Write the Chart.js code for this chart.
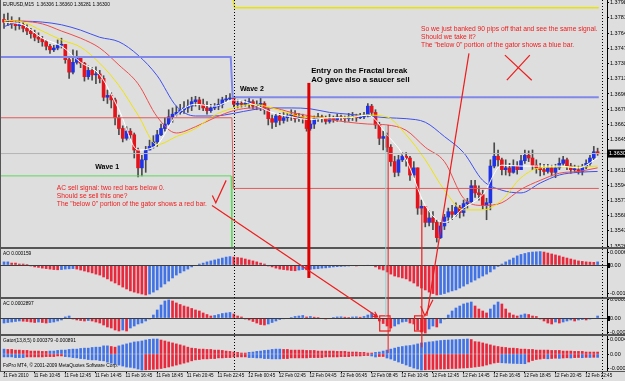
<!DOCTYPE html>
<html>
<head>
<meta charset="utf-8">
<script src="https://cdn.jsdelivr.net/npm/chart.js@4.4.1/dist/chart.umd.min.js"></script>
<style>
  body { margin: 0; }
  #wrap { position: relative; width: 625px; height: 381px; background: #555; overflow: hidden; }
  #wrap canvas { position: absolute; left: 0; }
  .pane { background: #dedede; }
</style>
</head>
<body>
<div id="wrap">
  <canvas id="mainChart" class="pane" width="625" height="247" style="top:0"></canvas>
  <canvas id="aoChart" class="pane" width="625" height="48" style="top:249px"></canvas>
  <canvas id="acChart" class="pane" width="625" height="35" style="top:299px"></canvas>
  <canvas id="gatorChart" class="pane" width="625" height="45" style="top:336px"></canvas>
  <canvas id="overlay" width="625" height="381" style="top:0"></canvas>
</div>
<script>
// EURUSD M15, 11-12 Feb 2010
const firstOpen = 1.3780;
const closes = [
  1.3777,1.3779,1.3775,1.3773,1.3774,1.3770,1.3767,1.3764,1.3760,1.3758,
  1.3755,1.3750,1.3746,1.3748,1.3751,1.3752,1.3735,1.3721,1.3732,1.3737,
  1.3731,1.3716,1.3723,1.3718,1.3719,1.3714,1.3693,1.3695,1.3690,1.3670,
  1.3658,1.3647,1.3655,1.3651,1.3634,1.3614,1.3623,1.3634,1.3638,1.3643,
  1.3651,1.3658,1.3663,1.3671,1.3674,1.3676,1.3679,1.3681,1.3683,1.3688,
  1.3690,1.3685,1.3681,1.3678,1.3681,1.3683,1.3685,1.3690,1.3691,1.3692,
  1.3685,1.3686,1.3685,1.3686,1.3688,1.3683,1.3685,1.3686,1.3679,1.3669,
  1.3665,1.3672,1.3667,1.3670,1.3672,1.3674,1.3669,1.3671,1.3669,1.3658,
  1.3663,1.3669,1.3671,1.3669,1.3666,1.3670,1.3668,1.3671,1.3670,1.3669,
  1.3671,1.3672,1.3670,1.3671,1.3673,1.3683,1.3676,1.3662,1.3647,1.3649,
  1.3637,1.3621,1.3609,1.3623,1.3627,1.3625,1.3606,1.3614,1.3569,1.3571,
  1.3553,1.3558,1.3553,1.3536,1.3549,1.3559,1.3565,1.3562,1.3570,1.3564,
  1.3574,1.3576,1.3594,1.3586,1.3584,1.3572,1.3575,1.3616,1.3627,1.3623,
  1.3612,1.3614,1.3609,1.3616,1.3612,1.3622,1.3628,1.3625,1.3617,1.3614,
  1.3612,1.3610,1.3614,1.3609,1.3614,1.3619,1.3623,1.3616,1.3612,1.3612,
  1.3610,1.3615,1.3619,1.3625,1.3632,1.3630
];
const highs = [
  1.3786,1.3787,1.3783,1.3779,1.3782,1.3777,1.3774,1.3770,1.3768,1.3765,
  1.3761,1.3757,1.3752,1.3751,1.3757,1.3759,1.3752,1.3737,1.3746,1.3745,
  1.3738,1.3732,1.3728,1.3726,1.3727,1.3723,1.3717,1.3701,1.3698,1.3692,
  1.3673,1.3661,1.3660,1.3658,1.3653,1.3636,1.3628,1.3638,1.3645,1.3650,
  1.3656,1.3663,1.3670,1.3679,1.3681,1.3683,1.3685,1.3688,1.3690,1.3693,
  1.3694,1.3693,1.3691,1.3688,1.3685,1.3686,1.3691,1.3693,1.3695,1.3697,
  1.3693,1.3690,1.3689,1.3690,1.3692,1.3690,1.3689,1.3692,1.3688,1.3681,
  1.3673,1.3675,1.3675,1.3676,1.3675,1.3679,1.3678,1.3675,1.3674,1.3671,
  1.3667,1.3672,1.3675,1.3673,1.3672,1.3674,1.3672,1.3674,1.3673,1.3672,
  1.3675,1.3676,1.3674,1.3675,1.3676,1.3686,1.3685,1.3679,1.3665,1.3655,
  1.3653,1.3640,1.3627,1.3628,1.3631,1.3631,1.3627,1.3621,1.3614,1.3578,
  1.3571,1.3566,1.3565,1.3556,1.3553,1.3562,1.3569,1.3572,1.3575,1.3572,
  1.3578,1.3580,1.3600,1.3600,1.3594,1.3589,1.3580,1.3623,1.3642,1.3634,
  1.3625,1.3623,1.3619,1.3623,1.3621,1.3628,1.3634,1.3633,1.3634,1.3623,
  1.3619,1.3618,1.3618,1.3617,1.3618,1.3625,1.3627,1.3625,1.3619,1.3617,
  1.3616,1.3618,1.3623,1.3628,1.3638,1.3636
];
const lows = [
  1.3770,1.3773,1.3770,1.3768,1.3769,1.3766,1.3763,1.3759,1.3756,1.3754,
  1.3750,1.3746,1.3742,1.3744,1.3746,1.3748,1.3731,1.3714,1.3719,1.3730,
  1.3726,1.3711,1.3713,1.3712,1.3708,1.3709,1.3689,1.3686,1.3681,1.3662,
  1.3651,1.3643,1.3645,1.3646,1.3625,1.3604,1.3605,1.3609,1.3634,1.3636,
  1.3638,1.3650,1.3655,1.3662,1.3665,1.3672,1.3674,1.3675,1.3676,1.3678,
  1.3683,1.3679,1.3678,1.3674,1.3676,1.3679,1.3679,1.3681,1.3688,1.3689,
  1.3682,1.3681,1.3682,1.3683,1.3681,1.3680,1.3679,1.3678,1.3674,1.3662,
  1.3658,1.3660,1.3662,1.3664,1.3666,1.3667,1.3665,1.3666,1.3664,1.3655,
  1.3656,1.3658,1.3666,1.3665,1.3663,1.3664,1.3665,1.3666,1.3667,1.3665,
  1.3666,1.3667,1.3666,1.3669,1.3669,1.3671,1.3672,1.3658,1.3640,1.3634,
  1.3632,1.3616,1.3604,1.3605,1.3621,1.3616,1.3600,1.3603,1.3562,1.3562,
  1.3548,1.3549,1.3545,1.3531,1.3535,1.3545,1.3553,1.3556,1.3560,1.3558,
  1.3560,1.3569,1.3574,1.3581,1.3578,1.3568,1.3556,1.3567,1.3614,1.3616,
  1.3606,1.3606,1.3605,1.3608,1.3607,1.3612,1.3619,1.3621,1.3612,1.3608,
  1.3605,1.3606,1.3608,1.3605,1.3603,1.3612,1.3617,1.3612,1.3608,1.3609,
  1.3607,1.3606,1.3613,1.3617,1.3623,1.3628
];

// Alligator (jaw / teeth / lips) and the thin white average, read every 5 bars
const maIdx = [0,5,10,15,20,25,30,35,40,45,50,55,60,65,70,75,80,85,90,95,100,105,110,115,120,125,130,135,140,145,150,155];
const jaw = [1.3772,1.3778,1.3777,1.3774,1.3768,1.3760,1.3755,1.3740,1.3717,1.3683,1.3672,1.3672,1.3675,1.3679,1.3681,1.3681,
             1.3680,1.3676,1.3674,1.3672,1.3670,1.3669,1.3665,1.3649,1.3631,1.3600,1.3589,1.3586,1.3597,1.3606,1.3609,1.3610];
const teeth = [1.3779,1.3778,1.3775,1.3767,1.3759,1.3748,1.3729,1.3708,1.3671,1.3653,1.3660,1.3670,1.3678,1.3681,1.3681,1.3676,
               1.3672,1.3668,1.3665,1.3663,1.3662,1.3656,1.3637,1.3621,1.3580,1.3572,1.3575,1.3590,1.3600,1.3608,1.3610,1.3614];
const lips = [1.3779,1.3777,1.3767,1.3757,1.3749,1.3731,1.3706,1.3673,1.3640,1.3649,1.3658,1.3673,1.3681,1.3685,1.3681,1.3674,
              1.3670,1.3670,1.3671,1.3673,1.3671,1.3651,1.3623,1.3589,1.3567,1.3567,1.3578,1.3603,1.3614,1.3615,1.3615,1.3616];
const whiteMa = [1.3777,1.3774,1.3759,1.3750,1.3732,1.3718,1.3679,1.3634,1.3640,1.3673,1.3685,1.3683,1.3690,1.3685,1.3676,1.3671,
                 1.3668,1.3670,1.3670,1.3673,1.3651,1.3623,1.3572,1.3553,1.3569,1.3584,1.3617,1.3616,1.3616,1.3616,1.3614,1.3625];

// drawn levels: [before the 12 Feb switch, after]
const blueLevel = [1.3738, 1.3693];
const redLevel = [1.3670, 1.3591];
const greenLevel = [1.3605, 1.3520];
const yellowLevel = [1.3815, 1.3793];
const bidPrice = 1.3630;

const ao = [
  0.00013,0.00013,0.00008,0.00008,0.00004,0.00004,0.00002,-0.00004,-0.00008,-0.00010,
  -0.00013,-0.00015,-0.00017,-0.00019,-0.00020,-0.00019,-0.00017,-0.00016,-0.00015,-0.00017,
  -0.00021,-0.00025,-0.00029,-0.00033,-0.00038,-0.00042,-0.00050,-0.00058,-0.00067,-0.00075,
  -0.00083,-0.00092,-0.00100,-0.00108,-0.00113,-0.00117,-0.00121,-0.00125,-0.00121,-0.00113,
  -0.00104,-0.00092,-0.00079,-0.00067,-0.00054,-0.00042,-0.00033,-0.00025,-0.00017,-0.00008,
  -0.00002,0.00004,0.00008,0.00013,0.00017,0.00021,0.00025,0.00029,0.00033,0.00035,
  0.00033,0.00031,0.00029,0.00025,0.00021,0.00017,0.00013,0.00008,0.00004,-0.00004,
  -0.00008,-0.00013,-0.00017,-0.00019,-0.00021,-0.00023,-0.00024,-0.00021,-0.00019,-0.00020,
  -0.00018,-0.00016,-0.00015,-0.00013,-0.00012,-0.00010,-0.00008,-0.00007,-0.00006,-0.00005,
  -0.00004,-0.00003,-0.00004,-0.00002,-0.00003,-0.00001,-0.00002,-0.00008,-0.00017,-0.00021,
  -0.00029,-0.00038,-0.00046,-0.00050,-0.00054,-0.00058,-0.00067,-0.00075,-0.00088,-0.00096,
  -0.00104,-0.00113,-0.00119,-0.00125,-0.00123,-0.00119,-0.00113,-0.00108,-0.00104,-0.00096,
  -0.00088,-0.00079,-0.00071,-0.00063,-0.00054,-0.00046,-0.00038,-0.00029,-0.00017,-0.00006,
  0.00004,0.00013,0.00021,0.00029,0.00038,0.00044,0.00048,0.00052,0.00054,0.00055,
  0.00056,0.00054,0.00050,0.00046,0.00042,0.00038,0.00033,0.00029,0.00025,0.00021,
  0.00017,0.00015,0.00013,0.00012,0.00011,0.00013
];
const ac = [
  -0.000094,-0.000084,-0.000075,-0.000065,-0.000056,-0.00006,-0.000065,-0.000075,-0.000084,-0.000075,
  -0.000084,-0.000094,-0.000084,-0.000075,-0.000056,-0.000037,0.000019,0.000037,-0.000019,-0.000037,
  -0.000047,-0.000056,-0.000047,-0.000056,-0.000075,-0.000094,-0.000131,-0.000168,-0.000187,-0.000224,
  -0.000243,-0.000224,-0.000243,-0.000187,-0.00015,-0.000112,-0.000094,-0.000056,-0.000019,0.000056,
  0.00015,0.000243,0.000318,0.000337,0.000318,0.000281,0.000252,0.000224,0.000206,0.000178,
  0.00015,0.000131,0.000094,0.000065,0.000037,0.000047,0.000065,0.000084,0.000094,0.000103,
  0.000075,0.000037,0.000019,-0.000019,-0.000037,-0.000065,-0.000094,-0.000122,-0.000131,-0.000112,
  -0.000084,-0.000056,-0.000028,-0.000015,-0.000009,0.000009,0.000028,0.000037,0.000047,0.000019,
  0.000028,0.000015,0.000009,-0.000009,-0.000019,-0.000009,0.000009,0.000019,0.000022,0.000015,
  0.000009,0.000019,0.000022,0.000015,0.000028,0.000056,0.000094,0.000065,-0.000056,-0.000103,
  -0.00015,-0.000187,-0.00015,-0.000112,-0.000075,-0.000065,-0.000094,-0.000112,-0.000224,-0.000262,
  -0.000281,-0.000206,-0.00015,-0.000168,-0.000094,-0.000019,0.000056,0.000131,0.000187,0.000224,
  0.000262,0.000281,0.000299,0.000224,0.000168,0.000131,0.000094,0.000168,0.000243,0.000299,
  0.000262,0.000168,0.000094,0.000056,0.000037,0.000056,0.000075,0.000065,0.000037,0.000028,
  -0.000019,-0.000056,-0.000094,-0.000112,-0.000075,-0.000094,-0.000075,-0.000056,-0.000037,-0.000056,
  -0.000037,-0.000028,-0.000037,-0.000019,-0.000009,0.000037
];
const gatorUp = [
  0.00015,0.00014,0.00014,0.00012,0.00012,0.00011,0.00011,0.00009,0.00009,0.00009,
  0.00008,0.00008,0.00009,0.00009,0.00011,0.00012,0.00012,0.00014,0.00015,0.00015,
  0.00017,0.00018,0.00018,0.00020,0.00021,0.00021,0.00025,0.00025,0.00023,0.00021,
  0.00025,0.00028,0.00031,0.00034,0.00037,0.00038,0.00040,0.00043,0.00045,0.00046,
  0.00046,0.00043,0.00040,0.00037,0.00034,0.00031,0.00028,0.00025,0.00021,0.00018,
  0.00017,0.00015,0.00015,0.00014,0.00014,0.00012,0.00012,0.00011,0.00009,0.00008,
  0.00006,0.00005,0.00003,0.00003,0.00005,0.00006,0.00008,0.00009,0.00011,0.00012,
  0.00014,0.00015,0.00015,0.00014,0.00014,0.00012,0.00012,0.00012,0.00012,0.00011,
  0.00011,0.00011,0.00009,0.00009,0.00009,0.00009,0.00009,0.00008,0.00008,0.00008,
  0.00006,0.00006,0.00006,0.00005,0.00005,0.00003,0.00003,0.00005,0.00006,0.00009,
  0.00012,0.00015,0.00018,0.00021,0.00023,0.00025,0.00026,0.00028,0.00031,0.00034,
  0.00035,0.00037,0.00038,0.00040,0.000414,0.000424,0.00043,0.000436,0.000442,0.000448,
  0.000454,0.000461,0.000445,0.00038,0.00037,0.00034,0.00031,0.00028,0.00025,0.00023,
  0.00021,0.00020,0.00018,0.00018,0.00017,0.00015,0.00015,0.00014,0.00014,0.00012,
  0.00012,0.00012,0.00012,0.00011,0.00011,0.00011,0.00009,0.00009,0.00009,0.00008,
  0.00008,0.00008,0.00006,0.00006,0.00006,0.00006
];
const gatorDown = [
  -0.00009,-0.00009,-0.00009,-0.00011,-0.00011,-0.00011,-0.00009,-0.00009,-0.00009,-0.00009,
  -0.00009,-0.00008,-0.00008,-0.00008,-0.00006,-0.00006,-0.00008,-0.00009,-0.00011,-0.00012,
  -0.00014,-0.00015,-0.00017,-0.00018,-0.00018,-0.00020,-0.00021,-0.00025,-0.00028,-0.00031,
  -0.00034,-0.00037,-0.00040,-0.00041,-0.00043,-0.000461,-0.000491,-0.000485,-0.000479,-0.00047,
  -0.000461,-0.000445,-0.000424,-0.000399,-0.00037,-0.00034,-0.00031,-0.00028,-0.00025,-0.00021,
  -0.00018,-0.00017,-0.00015,-0.00015,-0.00014,-0.00014,-0.00012,-0.00012,-0.00011,-0.00011,
  -0.00009,-0.00009,-0.00009,-0.00009,-0.00011,-0.00011,-0.00012,-0.00012,-0.00014,-0.00014,
  -0.00015,-0.00015,-0.00015,-0.00014,-0.00014,-0.00012,-0.00012,-0.00012,-0.00012,-0.00012,
  -0.00011,-0.00011,-0.00011,-0.00011,-0.00009,-0.00009,-0.00009,-0.00009,-0.00008,-0.00008,
  -0.00008,-0.00006,-0.00006,-0.00006,-0.00005,-0.000046,-0.000061,-0.000092,-0.000077,-0.000077,
  -0.000123,-0.000154,-0.0002,-0.000246,-0.000292,-0.000338,-0.000384,-0.00043,-0.000461,-0.000491,
  -0.000485,-0.000476,-0.000476,-0.000467,-0.000461,-0.000461,-0.000454,-0.000445,-0.000445,-0.000436,
  -0.00043,-0.000424,-0.000414,-0.000399,-0.000384,-0.000368,-0.000338,-0.000307,-0.000276,-0.000261,
  -0.00027,-0.000276,-0.000282,-0.000289,-0.000292,-0.000295,-0.000298,-0.000246,-0.0002,-0.000169,
  -0.000154,-0.000138,-0.000147,-0.000138,-0.000129,-0.000135,-0.000123,-0.000117,-0.000123,-0.000111,
  -0.000107,-0.000114,-0.000104,-0.000107,-0.000101,-0.000104
];

// axis ticks
const priceTicks = [1.35266,1.35436,1.35606,1.35776,1.35946,1.36116,1.36456,1.36626,1.36796,1.36966,
                    1.37136,1.37306,1.37476,1.37646,1.37816,1.37986];
const aoTicks = [0.00054, 0, -0.00117];
const aoTickText = ['0.000659', '0.00', '-0.001216'];
const acTicks = [0.000337, 0, -0.00028];
const acTickText = ['0.000344', '0.00', '-0.000281'];
const gatorTicks = [0.00046, 0, -0.00046];
const gatorTickText = ['0.000491', '0.00', '-0.000491'];
const timeIdx = [0,8,16,24,32,40,48,56,64,72,80,88,96,104,112,120,128,136,144,152];
const timeLabels = ['11 Feb 2010','11 Feb 10:45','11 Feb 12:45','11 Feb 14:45','11 Feb 16:45','11 Feb 18:45',
  '11 Feb 20:45','11 Feb 22:45','12 Feb 00:45','12 Feb 02:45','12 Feb 04:45','12 Feb 06:45','12 Feb 08:45',
  '12 Feb 10:45','12 Feb 12:45','12 Feb 14:45','12 Feb 16:45','12 Feb 18:45','12 Feb 20:45','12 Feb 22:45'];

// ---- layout / style ----
const FONT = '"Liberation Sans", Arial, sans-serif';
const BULL = '#1f33e6', BEAR = '#e3141c', WICK = '#4a4a4a';
const HBLUE = '#4173e6', HRED = '#e8283c';
const xMin = -1.05, xMax = 157.45;
const switchIdx = 59.4;   // where the drawn levels jump (12 Feb)
const sepIdx = 60;        // day separator
const shiftIdx = 156.1;   // chart shift marker
const lastIdx = 155.3;

const idx = closes.map((_, i) => i);
const opens = [firstOpen].concat(closes.slice(0, -1)); // open = previous close

function trendColors(vals, useAbs) {
  let cur = HBLUE;
  return vals.map((v, i) => {
    if (i > 0) {
      const a = useAbs ? Math.abs(v) : v;
      const b = useAbs ? Math.abs(vals[i - 1]) : vals[i - 1];
      if (a > b) cur = HBLUE; else if (a < b) cur = HRED;
    }
    return cur;
  });
}

function yAxis(min, max, ticks, texts) {
  return {
    type: 'linear', position: 'right', min: min, max: max,
    afterBuildTicks: s => { s.ticks = ticks.map(v => ({ value: v })); },
    afterFit: s => { s.width = 18; s.paddingTop = 0; s.paddingBottom = 0; },
    grid: { drawOnChartArea: false, drawTicks: true, tickLength: 2, color: '#000' },
    border: { display: true, color: '#000' },
    ticks: { autoSkip: false, padding: 1, color: '#000', font: { family: FONT, size: 5.5 },
             callback: (v, i) => texts ? texts[i] : v.toFixed(5) }
  };
}
const hiddenX = { type: 'linear', min: xMin, max: xMax, offset: false, display: false };
const timeAxis = {
  type: 'linear', min: xMin, max: xMax, offset: false, position: 'bottom',
  afterBuildTicks: s => { s.ticks = timeIdx.map(v => ({ value: v })); },
  afterFit: s => { s.height = 10; s.paddingLeft = 0; s.paddingRight = 0; },
  grid: { drawOnChartArea: false, drawTicks: true, tickLength: 2, color: '#000', offset: false },
  border: { display: false },
  ticks: { autoSkip: false, maxRotation: 0, minRotation: 0, align: 'start', padding: 0, labelOffset: -1,
           color: '#000', font: { family: FONT, size: 4.6 }, callback: (v, i) => timeLabels[i] }
};
function baseOptions(x, y) {
  return {
    responsive: false, animation: false, events: [],
    layout: { padding: 0 },
    plugins: { legend: { display: false }, tooltip: { enabled: false } },
    scales: { x: x, y: y }
  };
}
function maLine(vals, color, width) {
  return { type: 'line', data: maIdx.map((x, k) => ({ x: x, y: vals[k] })), borderColor: color,
           borderWidth: width, pointRadius: 0, tension: 0.4, cubicInterpolationMode: 'monotone' };
}
function level(pts, color, width) {
  return { type: 'line', data: pts, borderColor: color, borderWidth: width, pointRadius: 0, tension: 0 };
}
function histo(vals, colors) {
  return { type: 'bar', data: idx.map(i => ({ x: i, y: vals[i] })), backgroundColor: colors,
           barThickness: 2, grouped: false, borderWidth: 0 };
}

const charts = {};

charts.main = new Chart(document.getElementById('mainChart'), {
  data: {
    datasets: [
      level([{ x: xMin, y: bidPrice }, { x: xMax, y: bidPrice }], '#b4b4b4', 1),
      level([{ x: switchIdx, y: yellowLevel[0] }, { x: switchIdx + 0.8, y: yellowLevel[1] }, { x: lastIdx, y: yellowLevel[1] }], '#e8e400', 1.5),
      level([{ x: xMin, y: blueLevel[0] }, { x: switchIdx - 0.2, y: blueLevel[0] }, { x: switchIdx + 0.3, y: blueLevel[1] }, { x: lastIdx, y: blueLevel[1] }], '#8088ea', 2),
      level([{ x: xMin, y: redLevel[0] }, { x: switchIdx + 0.1, y: redLevel[0] }, { x: switchIdx + 0.5, y: redLevel[1] }, { x: lastIdx, y: redLevel[1] }], '#e05a5a', 1),
      level([{ x: xMin, y: greenLevel[0] }, { x: switchIdx - 0.1, y: greenLevel[0] }, { x: switchIdx + 0.1, y: greenLevel[1] }], '#5ed85e', 1),
      maLine(whiteMa, '#ffffff', 1),
      maLine(lips, '#f0e400', 1),
      maLine(teeth, '#ee4c4c', 1),
      maLine(jaw, '#3e50ee', 1),
      { type: 'bar', data: idx.map(i => ({ x: i, y: [opens[i], closes[i]] })),
        backgroundColor: idx.map(i => closes[i] >= opens[i] ? BULL : BEAR),
        barThickness: 3, minBarLength: 1, grouped: false, borderWidth: 0 },
      { type: 'bar', data: idx.map(i => ({ x: i, y: [lows[i], highs[i]] })),
        backgroundColor: WICK, barThickness: 1, grouped: false, borderWidth: 0 }
    ]
  },
  options: baseOptions(hiddenX, yAxis(1.35255, 1.38017, priceTicks, null))
});

charts.ao = new Chart(document.getElementById('aoChart'), {
  data: { datasets: [histo(ao, trendColors(ao, false))] },
  options: baseOptions(hiddenX, yAxis(-0.001334, 0.000667, aoTicks, aoTickText))
});

charts.ac = new Chart(document.getElementById('acChart'), {
  data: { datasets: [histo(ac, trendColors(ac, false))] },
  options: baseOptions(hiddenX, yAxis(-0.000299, 0.000355, acTicks, acTickText))
});

charts.gator = new Chart(document.getElementById('gatorChart'), {
  data: { datasets: [histo(gatorUp, trendColors(gatorUp, true)), histo(gatorDown, trendColors(gatorDown, true))] },
  options: baseOptions(timeAxis, yAxis(-0.000522, 0.000553, gatorTicks, gatorTickText))
});

// ---- overlay: panel chrome and the hand-drawn annotations ----
const g = document.getElementById('overlay').getContext('2d');
function pt(p, i, v) {
  const c = charts[p];
  return [c.scales.x.getPixelForValue(i), c.scales.y.getPixelForValue(v) + c.canvas.offsetTop];
}
function seg(a, b, color, w) {
  g.strokeStyle = color; g.lineWidth = w;
  g.beginPath(); g.moveTo(a[0], a[1]); g.lineTo(b[0], b[1]); g.stroke();
}
function poly(list, color, w) {
  g.strokeStyle = color; g.lineWidth = w; g.beginPath();
  list.forEach((q, k) => k ? g.lineTo(q[0], q[1]) : g.moveTo(q[0], q[1]));
  g.stroke();
}
function text(s, q, color, font) {
  g.fillStyle = color; g.font = font; g.textBaseline = 'middle'; g.textAlign = 'left';
  g.fillText(s, q[0], q[1]);
}

const plotRight = charts.main.chartArea.right;
const paneBottom = charts.gator.chartArea.bottom + charts.gator.canvas.offsetTop;
// bottom border of the last pane, left edge
g.fillStyle = '#555';
g.fillRect(0, paneBottom, 625, 1);
g.fillRect(0, 0, 1, paneBottom);

// zero lines of AO and AC
['ao', 'ac'].forEach(p => {
  const y = Math.round(pt(p, 0, 0)[1]) + 0.5;
  seg([0, y], [plotRight, y], '#3c3c3c', 1);
  g.fillStyle = '#000'; g.fillRect(plotRight + 1, y - 2.5, 2, 5);
});

// dotted day separator and chart-shift line
g.save(); g.setLineDash([1, 2]);
const sx = Math.round(pt('main', sepIdx, bidPrice)[0]) + 0.5;
seg([sx, 0], [sx, paneBottom], '#000', 1);
const shx = Math.round(pt('main', shiftIdx, bidPrice)[0]) + 0.5;
seg([shx, 0], [shx, 381], '#000', 1);
g.restore();

// current price box
const by = pt('main', 0, bidPrice)[1];
g.fillStyle = '#000'; g.fillRect(plotRight, by - 4, 625 - plotRight, 8);
text('1.36300', [plotRight + 2, by], '#fff', '5.5px ' + FONT);

// pane captions
const small = '4.8px ' + FONT;
text('EURUSD,M15  1.36306 1.36360 1.36281 1.36300', [3, 5], '#000', small);
text('AO 0.000159', [3, 254], '#000', small);
text('AC 0.0002897', [3, 304], '#000', small);
text('Gator(13,8,5) 0.000379 -0.000891', [3, 341], '#000', small);
text('FxPro MT4, \u00a9 2001-2009 MetaQuotes Software Corp.', [3, 366], '#000', small);

// annotations
const RED = '#ee1c1c';
const note = '6.7px ' + FONT;
text('Wave 1', pt('main', 23.8, 1.3615), '#000', 'bold 7px ' + FONT);
text('Wave 2', pt('main', 61.6, 1.3702), '#000', 'bold 7px ' + FONT);
text('Entry on the Fractal break', pt('main', 80.2, 1.3722), '#000', 'bold 7.8px ' + FONT);
text('AO gave also a saucer sell', pt('main', 80.2, 1.3712), '#000', 'bold 7.8px ' + FONT);

text('AC sell signal: two red bars below 0.', pt('main', 13.8, 1.3591), RED, note);
text('Should se sell this one?', pt('main', 13.8, 1.3582), RED, note);
text('The "below 0" portion of the gator shows a red bar.', pt('main', 13.8, 1.3573), RED, note);

text('So we just banked 90 pips off that and see the same signal.', pt('main', 108.9, 1.3769), RED, note);
text('Should we take it?', pt('main', 108.9, 1.3760), RED, note);
text('The "below 0" portion of the gator shows a blue bar.', pt('main', 108.9, 1.3751), RED, note);

// entry line
seg(pt('main', 79.6, 1.3709), pt('ao', 79.6, -0.00054), '#dd0000', 3);

// first signal: check mark, arrow to the AC bars, box, vertical marker
poly([pt('main', 54.4, 1.3583), pt('main', 55.3, 1.3575), pt('main', 58.0, 1.3600)], RED, 1.2);
const a0 = pt('main', 54.3, 1.3572), a1 = pt('ac', 97.6, 0.00002);
seg(a0, a1, RED, 1.2);
const ang = Math.atan2(a1[1] - a0[1], a1[0] - a0[0]);
[0.45, -0.45].forEach(d => seg(a1, [a1[0] - 6 * Math.cos(ang + d), a1[1] - 6 * Math.sin(ang + d)], RED, 1.2));
function box(p, i0, i1, v0, v1) {
  const q0 = pt(p, i0, v0), q1 = pt(p, i1, v1);
  g.strokeStyle = RED; g.lineWidth = 1.2;
  g.strokeRect(q0[0], q0[1], q1[0] - q0[0], q1[1] - q0[1]);
}
box('ac', 98.1, 100.8, 0.00004, -0.000243);
seg(pt('main', 99.7, 1.3662), pt('ac', 99.7, 0.00004), '#8fd2d2', 1);
seg(pt('main', 100.3, 1.3662), pt('gator', 100.3, 0.00003), RED, 1);

// second signal
box('ac', 107.2, 109.4, 0.00004, -0.000243);
seg(pt('main', 109.1, 1.3569), pt('gator', 109.1, 0.00021), RED, 1.2);
seg(pt('main', 121.4, 1.3742), pt('ac', 110.4, 0.00004), RED, 1.2);
poly([pt('ac', 108.8, 0.00022), pt('ac', 109.9, 0.00004), pt('ac', 112.0, 0.00034)], RED, 1.2);

// the cross
seg(pt('main', 130.8, 1.3740), pt('main', 137.8, 1.3712), RED, 1.2);
seg(pt('main', 137.3, 1.3740), pt('main', 131.3, 1.3712), RED, 1.2);
</script>
</body>
</html>
